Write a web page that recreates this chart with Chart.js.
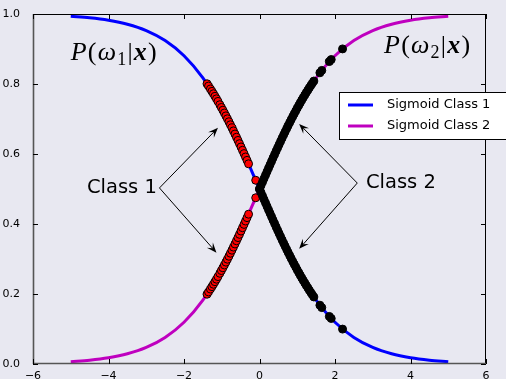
<!DOCTYPE html>
<html>
<head>
<meta charset="utf-8">
<script src="https://cdn.jsdelivr.net/npm/chart.js@4.4.1/dist/chart.umd.min.js"></script>
<style>
  body { margin: 0; background: #e8e8f1; }
  #sig { display: block; }
</style>
</head>
<body>
<canvas id="sig" width="506" height="379"></canvas>
<script>
// sigmoid curves, sampled every 0.5
var curveX = [-5, -4.5, -4, -3.5, -3, -2.5, -2, -1.5, -1, -0.5, 0, 0.5, 1, 1.5, 2, 2.5, 3, 3.5, 4, 4.5, 5];
var curveClass1 = [0.99331, 0.98901, 0.98201, 0.97069, 0.95257, 0.92414, 0.88080, 0.81757, 0.73106, 0.62246, 0.5,
                   0.37754, 0.26894, 0.18243, 0.11920, 0.07586, 0.04743, 0.02931, 0.01799, 0.01099, 0.00669];
var curveClass2 = [0.00669, 0.01099, 0.01799, 0.02931, 0.04743, 0.07586, 0.11920, 0.18243, 0.26894, 0.37754, 0.5,
                   0.62246, 0.73106, 0.81757, 0.88080, 0.92414, 0.95257, 0.97069, 0.98201, 0.98901, 0.99331];

// class 1 samples (red)
var class1X = [-1.39, -1.35, -1.30, -1.26, -1.22, -1.18, -1.14, -1.10, -1.05, -1.01, -0.97, -0.93, -0.89, -0.85,
               -0.81, -0.77, -0.73, -0.69, -0.65, -0.61, -0.57, -0.53, -0.49, -0.45, -0.41, -0.37, -0.33, -0.29, -0.10];
var class1OnC1 = [0.8006, 0.7941, 0.7858, 0.7790, 0.7721, 0.7649, 0.7577, 0.7503, 0.7408, 0.7330, 0.7251, 0.7171,
                  0.7089, 0.7006, 0.6921, 0.6835, 0.6748, 0.6660, 0.6570, 0.6479, 0.6388, 0.6295, 0.6201, 0.6106,
                  0.6011, 0.5915, 0.5818, 0.5720, 0.5250];
var class1OnC2 = [0.1994, 0.2059, 0.2142, 0.2210, 0.2279, 0.2351, 0.2423, 0.2497, 0.2592, 0.2670, 0.2749, 0.2829,
                  0.2911, 0.2994, 0.3079, 0.3165, 0.3252, 0.3340, 0.3430, 0.3521, 0.3612, 0.3705, 0.3799, 0.3894,
                  0.3989, 0.4085, 0.4182, 0.4280, 0.4750];

// class 2 samples (black)
var class2X = [0, 0.04, 0.08, 0.12, 0.16, 0.20, 0.24, 0.28, 0.32, 0.36, 0.40, 0.44, 0.48, 0.52, 0.56, 0.60, 0.64,
               0.68, 0.72, 0.76, 0.80, 0.84, 0.88, 0.92, 0.96, 1.00, 1.04, 1.08, 1.12, 1.16, 1.20, 1.24, 1.28, 1.32,
               1.36, 1.40, 1.44, 1.60, 1.65, 1.85, 1.90, 2.20];
var class2OnC2 = [0.5, 0.5100, 0.5200, 0.5300, 0.5399, 0.5498, 0.5597, 0.5695, 0.5793, 0.5890, 0.5987, 0.6083,
                  0.6177, 0.6271, 0.6365, 0.6457, 0.6548, 0.6637, 0.6726, 0.6814, 0.6900, 0.6985, 0.7068, 0.7150,
                  0.7231, 0.7311, 0.7389, 0.7465, 0.7540, 0.7613, 0.7685, 0.7756, 0.7824, 0.7892, 0.7958, 0.8022,
                  0.8085, 0.8320, 0.8389, 0.8641, 0.8699, 0.9003];
var class2OnC1 = [0.5, 0.4900, 0.4800, 0.4700, 0.4601, 0.4502, 0.4403, 0.4305, 0.4207, 0.4110, 0.4013, 0.3917,
                  0.3823, 0.3729, 0.3635, 0.3543, 0.3452, 0.3363, 0.3274, 0.3186, 0.3100, 0.3015, 0.2932, 0.2850,
                  0.2769, 0.2689, 0.2611, 0.2535, 0.2460, 0.2387, 0.2315, 0.2244, 0.2176, 0.2108, 0.2042, 0.1978,
                  0.1915, 0.1680, 0.1611, 0.1359, 0.1301, 0.0997];

var xTicks = [-6, -4, -2, 0, 2, 4, 6];
var yTicks = [0.0, 0.2, 0.4, 0.6, 0.8, 1.0];

function pts(xs, ys) {
    return xs.map(function (x, i) { return { x: x, y: ys[i] }; });
}

function minus(v) {
    return String(v).replace('-', '\u2212');
}

// spines, inward ticks, arrows, labels and legend
var annotations = {
    id: 'annotations',
    afterDraw: function (chart) {
        var c = chart.ctx, xs = chart.scales.x, ys = chart.scales.y, a = chart.chartArea;

        // spines
        c.save();
        c.lineWidth = 1;
        c.strokeStyle = '#000';
        c.beginPath();
        c.moveTo(a.left, a.top + 0.5); c.lineTo(a.right, a.top + 0.5);
        c.moveTo(a.right - 0.5, a.top); c.lineTo(a.right - 0.5, a.bottom);
        c.stroke();
        c.strokeStyle = '#555';
        c.lineWidth = 1.6;
        c.beginPath();
        c.moveTo(a.left + 0.5, a.top); c.lineTo(a.left + 0.5, a.bottom);
        c.moveTo(a.left, a.bottom - 0.5); c.lineTo(a.right, a.bottom - 0.5);
        c.stroke();

        // inward ticks on all four sides
        c.strokeStyle = '#000';
        c.lineWidth = 1;
        c.beginPath();
        xTicks.forEach(function (t) {
            var px = Math.round(xs.getPixelForValue(t)) + 0.5;
            c.moveTo(px, a.bottom); c.lineTo(px, a.bottom - 5);
            c.moveTo(px, a.top); c.lineTo(px, a.top + 5);
        });
        yTicks.forEach(function (t) {
            var py = Math.round(ys.getPixelForValue(t)) + 0.5;
            c.moveTo(a.left, py); c.lineTo(a.left + 5, py);
            c.moveTo(a.right, py); c.lineTo(a.right - 5, py);
        });
        c.stroke();

        function arrow(x0, y0, x1, y1) {
            var p0 = [xs.getPixelForValue(x0), ys.getPixelForValue(y0)];
            var p1 = [xs.getPixelForValue(x1), ys.getPixelForValue(y1)];
            var ang = Math.atan2(p1[1] - p0[1], p1[0] - p0[0]);
            var cs = Math.cos(ang), sn = Math.sin(ang);
            c.strokeStyle = '#000';
            c.fillStyle = '#000';
            c.lineWidth = 1;
            c.beginPath();
            c.moveTo(p0[0], p0[1]);
            c.lineTo(p1[0] - 6 * cs, p1[1] - 6 * sn);
            c.stroke();
            c.beginPath();
            c.moveTo(p1[0], p1[1]);
            c.lineTo(p1[0] - 10 * cs + 4 * sn, p1[1] - 10 * sn - 4 * cs);
            c.lineTo(p1[0] - 6 * cs, p1[1] - 6 * sn);
            c.lineTo(p1[0] - 10 * cs - 4 * sn, p1[1] - 10 * sn + 4 * cs);
            c.closePath();
            c.fill();
        }
        arrow(-2.65, 0.503, -1.10, 0.675);
        arrow(-2.65, 0.503, -1.14, 0.318);
        arrow(2.59, 0.517, 1.05, 0.686);
        arrow(2.59, 0.517, 1.05, 0.329);

        c.fillStyle = '#000';
        c.font = '19.5px "DejaVu Sans"';
        c.textBaseline = 'middle';
        c.textAlign = 'right';
        c.fillText('Class 1', xs.getPixelForValue(-2.72), ys.getPixelForValue(0.503));
        c.textAlign = 'left';
        c.fillText('Class 2', xs.getPixelForValue(2.82), ys.getPixelForValue(0.517));

        // P(ω|x) labels
        function mathLabel(x, y, sub) {
            var px = xs.getPixelForValue(x), py = ys.getPixelForValue(y);
            var parts = [
                ['italic 26px "Liberation Serif"', 'P', 0],
                ['26px "Liberation Serif"', '(', 0],
                ['italic 26px "Liberation Serif"', '\u03c9', 0],
                ['18px "Liberation Serif"', sub, 5],
                ['26px "Liberation Serif"', '|', 0],
                ['italic bold 26px "Liberation Serif"', 'x', 0],
                ['26px "Liberation Serif"', ')', 0]
            ];
            c.textAlign = 'left';
            c.textBaseline = 'alphabetic';
            parts.forEach(function (p) {
                c.font = p[0];
                c.fillText(p[1], px, py + p[2]);
                px += c.measureText(p[1]).width + 1.2;
            });
        }
        mathLabel(-5.0, 0.87, '1');
        mathLabel(3.3, 0.89, '2');

        // legend box
        var lx = 339, ly = 92, lw = 175, lh = 47;
        c.fillStyle = '#fff';
        c.fillRect(lx, ly, lw, lh);
        c.strokeStyle = '#000';
        c.lineWidth = 1;
        c.strokeRect(lx + 0.5, ly + 0.5, lw, lh);
        c.font = '13px "DejaVu Sans"';
        c.textBaseline = 'middle';
        [chart.data.datasets[4], chart.data.datasets[5]].forEach(function (ds, i) {
            var yy = ly + 13 + i * 21;
            c.strokeStyle = ds.borderColor;
            c.lineWidth = 3;
            c.beginPath();
            c.moveTo(lx + 9, yy); c.lineTo(lx + 34, yy);
            c.stroke();
            c.fillStyle = '#000';
            c.fillText(ds.label, lx + 48, yy);
        });
        c.restore();
    }
};

var ctx = document.getElementById('sig').getContext('2d');

var marker = { pointRadius: 4, pointHoverRadius: 4, pointBorderWidth: 1, pointBorderColor: '#000', showLine: false };

new Chart(ctx, {
    type: 'scatter',
    data: {
        datasets: [
            Object.assign({ label: 'class 1', data: pts(class1X, class1OnC1), pointBackgroundColor: '#ff0000', order: 1 }, marker),
            Object.assign({ label: 'class 1', data: pts(class1X, class1OnC2), pointBackgroundColor: '#ff0000', order: 1 }, marker),
            Object.assign({ label: 'class 2', data: pts(class2X, class2OnC1), pointBackgroundColor: '#000', order: 0 }, marker),
            Object.assign({ label: 'class 2', data: pts(class2X, class2OnC2), pointBackgroundColor: '#000', order: 0 }, marker),
            {
                label: 'Sigmoid Class 1',
                data: pts(curveX, curveClass1),
                showLine: true,
                borderColor: '#0000ff',
                borderWidth: 3,
                pointRadius: 0,
                cubicInterpolationMode: 'monotone',
                order: 2
            },
            {
                label: 'Sigmoid Class 2',
                data: pts(curveX, curveClass2),
                showLine: true,
                borderColor: '#bf00bf',
                borderWidth: 3,
                pointRadius: 0,
                cubicInterpolationMode: 'monotone',
                order: 3
            }
        ]
    },
    options: {
        responsive: false,
        animation: false,
        layout: { padding: { top: 14, right: 20, left: 0, bottom: 0 } },
        plugins: {
            legend: { display: false },
            tooltip: { enabled: false }
        },
        scales: {
            x: {
                min: -6, max: 6,
                afterFit: function (s) { s.height = 15; },
                afterBuildTicks: function (s) { s.ticks = xTicks.map(function (v) { return { value: v }; }); },
                grid: { display: false },
                border: { display: false },
                ticks: {
                    color: '#000',
                    padding: -2,
                    font: { family: 'DejaVu Sans', size: 11 },
                    maxRotation: 0,
                    callback: function (v) { return minus(v); }
                }
            },
            y: {
                min: 0, max: 1,
                afterFit: function (s) { s.width = 33; },
                afterBuildTicks: function (s) { s.ticks = yTicks.map(function (v) { return { value: v }; }); },
                grid: { display: false },
                border: { display: false },
                ticks: {
                    color: '#000',
                    padding: 5,
                    font: { family: 'DejaVu Sans', size: 11 },
                    callback: function (v) { return v.toFixed(1); }
                }
            }
        }
    },
    plugins: [annotations]
});
</script>
</body>
</html>
